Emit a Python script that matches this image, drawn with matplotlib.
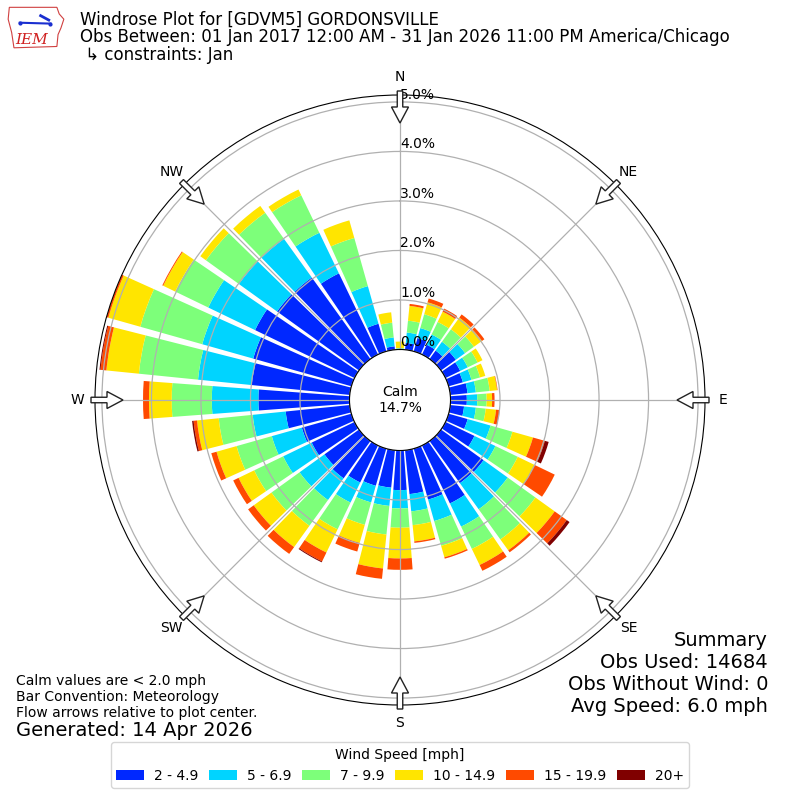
import numpy as np
import matplotlib.pyplot as plt
from matplotlib.patches import Patch, Circle, FancyArrow, Polygon

# =========================
# 1. Data (percent of obs, per speed bin)
# =========================

directions = np.arange(0, 360, 10)
speed_labels = ["2 - 4.9", "5 - 6.9", "7 - 9.9", "10 - 14.9", "15 - 19.9", "20+"]
speed_colors = ["#0028ff", "#00d4ff", "#7dff7a", "#ffe500", "#ff4a00", "#800000"]

bin_2_5 = [0.01, 0.14, 0.28, 0.22, 0.21, 0.37, 0.33, 0.30, 0.35, 0.33, 0.28, 0.40,
           0.65, 1.06, 1.05, 1.30, 1.07, 0.89, 0.80, 0.76, 0.78, 0.83, 0.93, 0.86,
           0.96, 1.04, 1.30, 1.84, 1.99, 2.06, 2.23, 2.04, 2.03, 1.82, 0.58, 0.07]
bin_5_7 = [0.01, 0.21, 0.21, 0.23, 0.22, 0.23, 0.17, 0.18, 0.17, 0.21, 0.24, 0.48,
           0.47, 0.60, 0.65, 0.52, 0.45, 0.35, 0.37, 0.37, 0.35, 0.45, 0.54, 0.62,
           0.64, 0.63, 0.67, 0.94, 1.09, 1.07, 1.05, 0.95, 0.96, 0.91, 0.79, 0.18]
bin_7_10 = [0.01, 0.24, 0.29, 0.28, 0.31, 0.22, 0.22, 0.18, 0.28, 0.19, 0.20, 0.46,
            0.50, 0.69, 0.75, 0.50, 0.52, 0.28, 0.39, 0.58, 0.47, 0.60, 0.64, 0.70,
            0.65, 0.74, 0.69, 0.81, 1.20, 1.30, 0.74, 0.82, 0.65, 0.84, 1.01, 0.30]
bin_10_15 = [0.13, 0.30, 0.25, 0.23, 0.29, 0.20, 0.11, 0.11, 0.15, 0.11, 0.21, 0.43,
             0.38, 0.48, 0.27, 0.36, 0.24, 0.33, 0.62, 0.69, 0.38, 0.52, 0.53, 0.44,
             0.35, 0.42, 0.44, 0.46, 0.66, 0.67, 0.27, 0.14, 0.17, 0.13, 0.37, 0.21]
bin_15_20 = [0.00, 0.04, 0.08, 0.07, 0.08, 0.06, 0.00, 0.00, 0.01, 0.05, 0.07, 0.25,
             0.45, 0.30, 0.05, 0.13, 0.03, 0.03, 0.23, 0.21, 0.18, 0.20, 0.17, 0.14,
             0.12, 0.11, 0.07, 0.12, 0.12, 0.04, 0.02, 0.00, 0.00, 0.00, 0.00, 0.00]
bin_20_up = [0.00, 0.00, 0.00, 0.00, 0.00, 0.00, 0.00, 0.00, 0.00, 0.00, 0.00, 0.08,
             0.00, 0.07, 0.00, 0.00, 0.00, 0.00, 0.00, 0.00, 0.00, 0.02, 0.00, 0.00,
             0.00, 0.00, 0.03, 0.00, 0.02, 0.00, 0.00, 0.00, 0.00, 0.00, 0.00, 0.00]

speed_bins = [bin_2_5, bin_5_7, bin_7_10, bin_10_15, bin_15_20, bin_20_up]

ring_values = [0, 1, 2, 3, 4, 5]
compass_labels = ["N", "NE", "E", "SE", "S", "SW", "W", "NW"]
calm_pct = 14.7

title_lines = [
    "Windrose Plot for [GDVM5] GORDONSVILLE",
    "Obs Between: 01 Jan 2017 12:00 AM - 31 Jan 2026 11:00 PM America/Chicago",
    " \u21b3 constraints: Jan",
]
summary_lines = ["Summary", "Obs Used: 14684", "Obs Without Wind: 0", "Avg Speed: 6.0 mph"]
note_lines = ["Calm values are < 2.0 mph", "Bar Convention: Meteorology",
              "Flow arrows relative to plot center."]

# =========================
# 2. Figure + polar axes
# =========================

fig = plt.figure(figsize=(8, 8), dpi=100)
ax = fig.add_axes([95 / 800, 95 / 800, 610 / 800, 610 / 800], projection="polar")
ax.set_theta_zero_location("N")
ax.set_theta_direction(-1)

theta = np.deg2rad(directions)
width = np.deg2rad(10) * 0.85
bottom = np.zeros(len(directions))
for vals, color in zip(speed_bins, speed_colors):
    vals = np.array(vals)
    ax.bar(theta, vals, width=width, bottom=bottom, color=color,
           linewidth=0, align="center")
    bottom = bottom + vals

ax.set_rorigin(-1.02)
ax.set_ylim(0, 5.14)
ax.set_yticks(ring_values)
ax.set_yticklabels([])
for v in ring_values:
    ax.text(0, v, f"{v:.1f}%", ha="left", va="bottom", fontsize=10)

ax.set_thetagrids(range(0, 360, 45), compass_labels, fontsize=10)
ax.tick_params(axis="x", pad=2.5)
ax.grid(True, color="#b0b0b0", linewidth=0.9)

# calm circle
calm = Circle((0.5, 0.5), 50 / 610, transform=ax.transAxes, facecolor="white",
              edgecolor="black", linewidth=1, zorder=5)
ax.add_patch(calm)
ax.text(0.5, 0.5, f"Calm\n{calm_pct:.1f}%", transform=ax.transAxes,
        ha="center", va="center", fontsize=10, zorder=6)

# flow arrows pointing to plot center
for d in range(0, 360, 45):
    a = np.deg2rad(d)
    x0 = 0.5 + 309 * np.sin(a) / 800
    y0 = 0.5 + 309 * np.cos(a) / 800
    dx = -32 * np.sin(a) / 800
    dy = -32 * np.cos(a) / 800
    arr = FancyArrow(x0, y0, dx, dy, width=5.5 / 800, head_width=17 / 800,
                     head_length=16 / 800, length_includes_head=True,
                     facecolor="white", edgecolor="#222222", linewidth=1,
                     transform=fig.transFigure, zorder=10)
    fig.patches.append(arr)

# =========================
# 3. Texts
# =========================

title_y = [20, 37, 55]
for line, y in zip(title_lines, title_y):
    fig.text(80 / 800, 1 - y / 800, line, fontsize=12, ha="left", va="center")

summary_y = [640, 663, 685, 706]
for line, y in zip(summary_lines, summary_y):
    fig.text(768 / 800, 1 - y / 800, line, fontsize=14, ha="right", va="center")

note_y = [681, 697, 713]
for line, y in zip(note_lines, note_y):
    fig.text(16 / 800, 1 - y / 800, line, fontsize=10, ha="left", va="center")
fig.text(16 / 800, 1 - 730 / 800, "Generated: 14 Apr 2026", fontsize=14,
         ha="left", va="center")

handles = [Patch(facecolor=c, label=l) for c, l in zip(speed_colors, speed_labels)]
fig.legend(handles=handles, loc="lower center", bbox_to_anchor=(0.5, 0.006),
           ncol=6, fontsize=10, title="Wind Speed [mph]", title_fontsize=10,
           columnspacing=0.8, handletextpad=0.7)

# rough IEM logo
logo = fig.add_axes([7 / 800, 1 - 50 / 800, 58 / 800, 44 / 800])
logo.axis("off")
logo.set_xlim(0, 1)
logo.set_ylim(0, 1)
iowa = Polygon([(0.04, 0.97), (0.86, 0.97), (0.9, 0.82), (0.98, 0.7), (0.93, 0.5),
                (0.88, 0.35), (0.86, 0.08), (0.12, 0.05), (0.08, 0.4), (0.02, 0.7)],
               closed=True, fill=False, edgecolor="#d04040", linewidth=0.8)
logo.add_patch(iowa)
logo.plot([0.22, 0.75], [0.62, 0.6], color="#1a2fd0", linewidth=1.5)
logo.plot([0.22, 0.75], [0.62, 0.6], "o", color="#1a2fd0", markersize=2)
logo.plot([0.58, 0.72], [0.78, 0.68], color="#1a2fd0", linewidth=2)
logo.text(0.42, 0.22, "IEM", color="#d02020", fontsize=11, family="DejaVu Serif",
          style="italic", ha="center", va="center")

fig.savefig("out.png", dpi=100)
